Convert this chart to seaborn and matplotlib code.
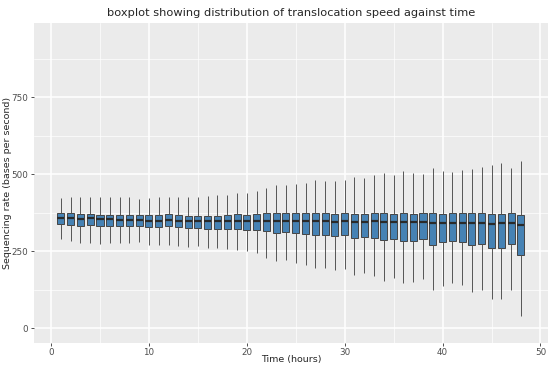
import seaborn as sns
import matplotlib.pyplot as plt
import pandas as pd
import numpy as np

# five-number summaries, one per hour (1..48)
hours = list(range(1, 49))
whisker_low = [290, 282, 276, 277, 274, 276, 275, 275, 279, 271, 269, 271,
               267, 263, 265, 261, 260, 256, 254, 249, 244, 228, 218, 220,
               212, 204, 196, 195, 190, 191, 172, 180, 168, 153, 164, 146,
               149, 160, 122, 136, 146, 139, 116, 124, 93, 95, 123, 40]
q1 = [339, 336, 332, 333, 331, 331, 331, 331, 332, 328, 328, 330,
      328, 324, 325, 323, 323, 321, 322, 319, 319, 315, 310, 311,
      308, 306, 302, 301, 298, 301, 291, 294, 292, 287, 289, 281,
      283, 288, 271, 278, 282, 279, 269, 272, 259, 259, 272, 236]
median = [358, 358, 355, 356, 353, 353, 352, 352, 350, 348, 348, 352,
          349, 346, 347, 346, 346, 347, 349, 347, 349, 348, 348, 348,
          347, 346, 348, 347, 345, 347, 345, 344, 347, 344, 344, 345,
          343, 344, 341, 341, 342, 342, 341, 342, 337, 341, 340, 333]
q3 = [373, 373, 370, 371, 368, 368, 368, 368, 367, 366, 366, 369,
      367, 365, 365, 365, 365, 367, 369, 368, 371, 372, 372, 373,
      372, 372, 375, 373, 371, 374, 371, 371, 374, 374, 371, 374,
      371, 373, 372, 371, 372, 373, 372, 373, 371, 371, 372, 368]
whisker_high = [423, 426, 426, 427, 426, 425, 425, 426, 420, 423, 425, 426,
                426, 427, 426, 430, 431, 432, 437, 440, 446, 456, 464, 466,
                467, 472, 480, 479, 479, 482, 491, 486, 498, 505, 496, 511,
                504, 499, 521, 511, 508, 512, 518, 522, 531, 537, 521, 541]

rows = []
for h, a, b, c, d, e in zip(hours, whisker_low, q1, median, q3, whisker_high):
    for v in (a, b, c, d, e):
        rows.append({'hour': h, 'rate': v})
df = pd.DataFrame(rows)

sns.set_theme(style="darkgrid", rc={
    'axes.facecolor': '#EBEBEB',
    'grid.color': 'white',
    'axes.edgecolor': '#EBEBEB',
})
plt.rcParams['font.family'] = ['DejaVu Sans']

fig = plt.figure(figsize=(5.53, 3.69), dpi=100)
ax = fig.add_axes([0.0615, 0.071, 0.9295, 0.867])

sns.boxplot(data=df, x='hour', y='rate', native_scale=True, whis=np.inf,
            width=0.72, color='#4682B4', saturation=1, linewidth=0.7,
            linecolor='#444444', showfliers=False, showcaps=False, ax=ax,
            whiskerprops={'color': '#555555'},
            medianprops={'linewidth': 1.6, 'color': '#2a2a2a'})

ax.set_xlim(-1.74, 50.77)
ax.set_ylim(-48, 991)
ax.set_xticks([0, 10, 20, 30, 40, 50])
ax.set_yticks([0, 250, 500, 750])
ax.set_xticks([5, 15, 25, 35, 45], minor=True)
ax.set_yticks([125, 375, 625, 875], minor=True)
ax.grid(which='major', color='white', linewidth=1.1)
ax.grid(which='minor', color='white', linewidth=0.5)
ax.tick_params(which='major', length=2.5, width=0.6, color='#333333',
               labelsize=6.3, labelcolor='#4D4D4D', pad=1.5, bottom=True, left=True)
ax.tick_params(which='minor', length=0)
for s in ax.spines.values():
    s.set_visible(False)

ax.set_xlabel('Time (hours)', fontsize=6.8)
ax.set_ylabel('Sequencing rate (bases per second)', fontsize=6.8)
ax.xaxis.set_label_coords(0.5, -0.037)
ax.yaxis.set_label_coords(-0.043, 0.5)
ax.set_title('boxplot showing distribution of translocation speed against time',
             fontsize=8.2, pad=5)

fig.savefig('out.png', dpi=100)
